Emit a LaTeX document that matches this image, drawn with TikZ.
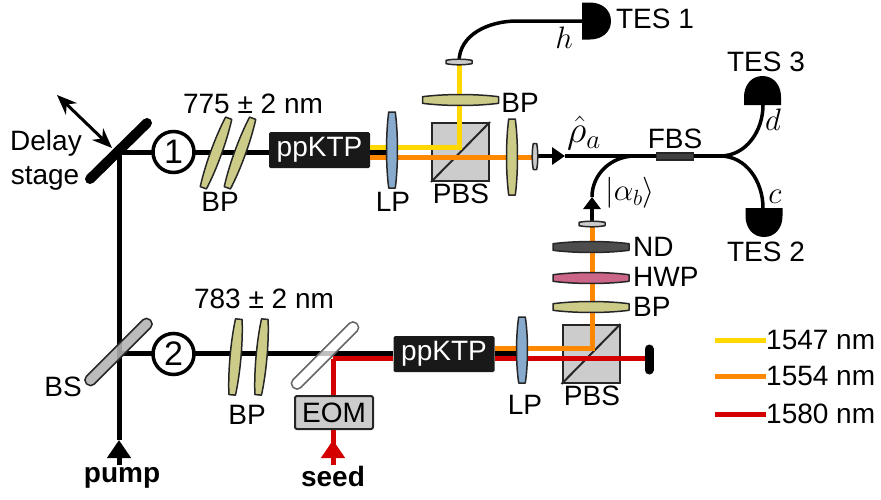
\documentclass[tikz,border=0pt]{standalone}
\usepackage{fix-cm}
\usepackage{fontspec}
\setmainfont{Liberation Sans}
\usetikzlibrary{arrows.meta}
\usetikzlibrary{positioning}

\definecolor{bpcol}{HTML}{CCCC88}
\definecolor{lpcol}{HTML}{88AACC}
\definecolor{hwpcol}{HTML}{CC6688}
\definecolor{ndcol}{HTML}{4D4D4D}
\definecolor{smacol}{HTML}{CCCCCC}
\definecolor{yellowb}{HTML}{FFD800}
\definecolor{orangeb}{HTML}{FF8800}
\definecolor{redb}{HTML}{D40000}

\DeclareMathSizes{28}{31}{22}{16}
\DeclareMathSizes{38}{38}{27}{19}
\newcommand{\labelsize}{\fontsize{28}{30}\selectfont}
\newcommand{\mathlarge}{\fontsize{38}{40}\selectfont}

\tikzset{
  pics/lens/.style n args = {4}{code = {
    \draw [line width=1.5pt, draw=black!85, fill=#4, rotate=#1, line join=round]
      (-#2, 0.6*#3) .. controls (-0.4*#2, 1.13*#3) and (0.4*#2, 1.13*#3) .. (#2, 0.6*#3)
      -- (#2, -0.6*#3) .. controls (0.4*#2, -1.13*#3) and (-0.4*#2, -1.13*#3) .. (-#2, -0.6*#3)
      -- cycle;
  }},
  pics/tes/.style n args = {1}{code = {
    \fill [black, rotate=#1] (0, -18.5) -- (8, -18.5) .. controls (20, -18.5) and (29, -11) .. (29, 0)
      .. controls (29, 11) and (20, 18.5) .. (8, 18.5) -- (0, 18.5) -- cycle;
  }},
  beam/.style = {line width=5pt},
  fibre/.style = {line width=3.5pt},
  crystal/.style = {rectangle, rounded corners=1.5pt, fill=black!90, text=white, minimum width=101pt, minimum height=36pt},
  cube/.style = {rectangle, draw=black!85, line width=2pt, fill=smacol, minimum width=57pt, minimum height=58pt},
  portnum/.style = {circle, draw, line width=3.5pt, fill=white, minimum size=41pt, font=\fontsize{34}{36}\selectfont},
  plate/.style = {rectangle, rounded corners=5pt, rotate=45, line width=1.5pt, minimum width=90pt, minimum height=11pt},
}

\begin{document}
\begin{tikzpicture}
  [x=1pt, y=-1pt, every node/.style = {font=\labelsize, inner sep=0pt}]
  \useasboundingbox (0, 0) rectangle (881, 499);

  % cubes sit under the beams
  \node [cube] (pbsa) at (460.5, 152) {};
  \node [cube] (pbsb) at (591, 354) {};
  \draw [line width=2pt, black!85] (pbsa.south west) -- (pbsa.north east);
  \draw [line width=2pt, black!85] (pbsb.south west) -- (pbsb.north east);

  \coordinate (pumpend) at (119, 465);
  \coordinate (pumptip) at (119, 440);
  \coordinate (delay) at (119, 152);
  \coordinate (bsa) at (119, 353.5);
  \coordinate (seedend) at (333, 465);
  \coordinate (seedtip) at (333, 440);
  \coordinate (seedturn) at (333, 358.5);
  \coordinate (dump) at (649, 358.5);
  \coordinate (tes1in) at (583, 21);
  \coordinate (fibh) at (517, 21);
  \coordinate (rhotip) at (565, 156);
  \coordinate (merge) at (635, 156);
  \coordinate (alphatip) at (592, 197);
  \coordinate (fork) at (720, 156);
  \coordinate (tes3in) at (763, 105);
  \coordinate (tes2in) at (763, 208);

  \node [crystal] (ppa) at (319.5, 150) {ppKTP};
  \node [crystal] (ppb) at (444, 354) {ppKTP};

  % beams
  \draw [beam, -{Triangle[length=18pt, width=23pt]}] (pumpend) -- (pumptip);
  \draw [beam] (pumptip) -- (delay) -- (ppa.west |- delay);
  \draw [beam] (bsa) -- (ppb.west |- bsa);
  \draw [beam] (ppa.east |- delay) -- (392, 152);
  \draw [beam] (ppb.east |- bsa) -- (522, 353.5);
  \draw [beam, yellowb] (ppa.east |- 0, 147) -- (459, 147) -- (459, 65);
  \draw [beam, orangeb] (ppa.east |- 0, 157) -- (535, 157);
  \draw [beam, orangeb] (ppb.east |- 0, 348) -- (592, 348) -- (592, 224);

  \draw [fibre, -{Triangle[length=13pt, width=17pt]}] (535, 156) -- (rhotip);
  \draw [fibre] (rhotip) -- (fork);
  \draw [fibre, -{Triangle[length=12pt, width=17pt]}] (592, 224) -- (alphatip);
  \draw [fibre] (alphatip) to [out=90, in=180] (merge);
  \draw [fibre] (fork) to [out=0, in=-90] (tes3in);
  \draw [fibre] (fork) to [out=0, in=90] (tes2in);
  \draw [fibre] (459, 62) to [out=90, in=180] (fibh) -- (tes1in);

  % mirrors
  \node [portnum] (one) at (173.5, 152) {1};
  \node [portnum] (two) at (173.5, 354) {2};
  \draw [line width=10pt, line cap=round] (90, 179) -- (147, 123);
  \node [plate, draw=black!85, fill=black!30, fill opacity=0.88] (bs) at (118.5, 352) {};
  \node [plate, draw=black!60, fill=white, fill opacity=0.75] (dichroic) at (325, 355.5) {};
  \draw [beam, redb] (ppb.east |- 0, 358.5) -- (dump);
  \draw [beam, redb] (seedturn) -- (ppb.west |- seedturn);
  \draw [beam, redb] (seedend) -- (seedturn);
  \draw [beam, redb, -{Triangle[length=18pt, width=23pt]}] (seedend) -- (seedtip);
  \draw [line width=9pt, line cap=round] (649, 349) -- (649, 370);

  \draw [line width=3pt, {Stealth[length=20pt, width=16pt]}-{Stealth[length=20pt, width=16pt]}]
    (57, 95) -- (112, 148);

  % lenses
  \pic at (216, 153) {lens={70}{37}{5.5}{bpcol}};
  \pic at (240, 153) {lens={70}{37}{5.5}{bpcol}};
  \pic at (235.5, 357) {lens={85}{38}{5.5}{bpcol}};
  \pic at (261.5, 357) {lens={85}{38}{5.5}{bpcol}};
  \pic at (392, 150) {lens={90}{38}{5.5}{lpcol}};
  \pic at (522, 350) {lens={90}{33}{5.5}{lpcol}};
  \pic at (512, 157) {lens={90}{38}{5.5}{bpcol}};
  \pic at (460.5, 100) {lens={0}{38}{5.5}{bpcol}};
  \pic at (591, 247) {lens={0}{38}{5.5}{ndcol}};
  \pic at (591, 278) {lens={0}{38}{5.5}{hwpcol}};
  \pic at (591, 307) {lens={0}{38}{5.5}{bpcol}};
  \pic at (459, 62) {lens={0}{13}{2.8}{smacol}};
  \pic at (592, 224) {lens={0}{13}{2.8}{smacol}};
  \pic at (535, 156.5) {lens={90}{13}{2.8}{smacol}};

  \node [rectangle, draw=black!85, line width=1.5pt, fill=black!75, minimum width=37pt, minimum height=7pt] (fbs) at (675, 156.5) {};
  \node [rectangle, rounded corners=2pt, draw=black!85, line width=2pt, fill=smacol, minimum width=78pt, minimum height=33pt] (eom) at (334, 412.5) {EOM};

  \pic at (582, 21) {tes={0}};
  \pic at (762.5, 105) {tes={90}};
  \pic at (764, 208) {tes={-90}};

  % labels
  \node (tes1) at (655, 19) {TES 1};
  \node (tes3) at (766, 62) {TES 3};
  \node (tes2) at (766, 252) {TES 2};
  \node (fbslab) at (675, 139) {FBS};
  \node (delaylab) at (46, 143) {Delay};
  \node (stagelab) at (45, 178) {stage};
  \node (nma) at (253, 104) {775 ± 2 nm};
  \node (nmb) at (264, 299) {783 ± 2 nm};
  \node (bpa) at (220, 202) {BP};
  \node (bpb) at (520, 103) {BP};
  \node (bpc) at (247, 415) {BP};
  \node (lpa) at (393, 202) {LP};
  \node (lpb) at (525, 405) {LP};
  \node (pbslaba) at (461, 194) {PBS};
  \node (pbslabb) at (592, 396) {PBS};
  \node (bslab) at (63, 387) {BS};
  \node [anchor=west] (ndlab) at (633, 247) {ND};
  \node [anchor=west] (hwplab) at (633, 277) {HWP};
  \node [anchor=west] (bplab) at (633, 307) {BP};
  \node [font=\labelsize\bfseries] (pumplab) at (122, 478) {pump};
  \node [font=\labelsize\bfseries] (seedlab) at (333, 476) {seed};
  \node (hlab) at (564, 38) {$h$};
  \node (dlab) at (773, 120) {$d$};
  \node (clab) at (775, 197) {$c$};
  \node [font=\mathlarge] (rholab) at (584, 133) {$\hat{\rho}_a$};
  \node (alphalab) at (630, 193) {$|\alpha_b\rangle$};

  % legend
  \foreach \ypos/\col/\lam in {340/yellowb/1547, 376/orangeb/1554, 414/redb/1580} {
    \node [anchor=west] (lam\lam) at (766, \ypos) {\lam{} nm};
    \coordinate (leg\lam) at (715, \ypos);
    \draw [beam, \col] (leg\lam) -- (lam\lam.west);
  }
\end{tikzpicture}
\end{document}
